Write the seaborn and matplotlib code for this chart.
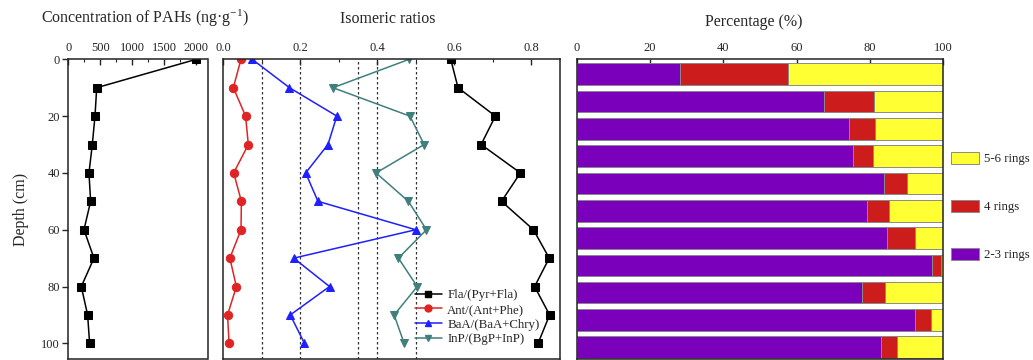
import numpy as np
import pandas as pd
import matplotlib
matplotlib.use("Agg")
import matplotlib.pyplot as plt
import seaborn as sns
from matplotlib.patches import Patch
from matplotlib.lines import Line2D

# ---------------- data ----------------
depth = [0, 10, 20, 30, 40, 50, 60, 70, 80, 90, 100]
concentration = [2000, 444, 417, 375, 323, 349, 245, 401, 203, 302, 333]

fla_ratio = [0.591, 0.610, 0.707, 0.670, 0.772, 0.723, 0.806, 0.847, 0.809, 0.848, 0.818]
ant_ratio = [0.046, 0.026, 0.058, 0.065, 0.027, 0.047, 0.046, 0.017, 0.034, 0.011, 0.015]
baa_ratio = [0.075, 0.172, 0.295, 0.272, 0.214, 0.246, 0.500, 0.183, 0.276, 0.174, 0.211]
inp_ratio = [0.483, 0.285, 0.485, 0.522, 0.397, 0.481, 0.528, 0.455, 0.504, 0.444, 0.470]
threshold_lines = [0.1, 0.2, 0.35, 0.4, 0.5]

rings_2_3 = [28.1, 67.5, 74.3, 75.4, 83.8, 79.2, 84.6, 97.0, 77.7, 92.2, 83.1]
rings_4 = [29.6, 13.6, 7.0, 5.5, 6.4, 6.0, 7.6, 2.4, 6.4, 4.5, 4.3]
rings_5_6 = [42.3, 18.9, 18.7, 19.1, 9.8, 14.8, 7.8, 0.6, 15.9, 3.3, 12.6]

ratio_labels = ["Fla/(Pyr+Fla)", "Ant/(Ant+Phe)", "BaA/(BaA+Chry)", "InP/(BgP+InP)"]
ring_labels = ["5-6 rings", "4 rings", "2-3 rings"]

# ---------------- style ----------------
sns.set_style("ticks")
plt.rcParams["font.family"] = ["Liberation Serif", "DejaVu Serif"]
plt.rcParams["mathtext.fontset"] = "custom"
plt.rcParams["mathtext.rm"] = "Liberation Serif"
plt.rcParams["mathtext.it"] = "Liberation Serif:italic"
plt.rcParams["axes.edgecolor"] = "#222222"
plt.rcParams["axes.linewidth"] = 1.1

W, H = 1033, 360
fig = plt.figure(figsize=(W / 100, H / 100), dpi=100)

def px_axes(l, r, t, b):
    return fig.add_axes([l / W, 1 - b / H, (r - l) / W, (b - t) / H])

TICK_FS = 9.0
ax1 = px_axes(68.3, 207.5, 59.3, 358.7)
ax2 = px_axes(223.3, 560.0, 59.3, 358.7)
ax3 = px_axes(576.7, 943.3, 59.3, 358.7)

# ---------- panel 1: concentration ----------
df1 = pd.DataFrame({"depth": depth, "conc": concentration})
sns.lineplot(data=df1, x="conc", y="depth", orient="y", ax=ax1, color="black",
             marker="s", markersize=5.5, markeredgecolor="black", linewidth=1.1)
ax1.set_xlim(0, 2175)
ax1.set_ylim(105.4, 0)
ax1.xaxis.tick_top()
ax1.set_xticks([0, 500, 1000, 1500, 2000])
ax1.set_xticks([250, 750, 1250, 1750], minor=True)
ax1.set_yticks([0, 20, 40, 60, 80, 100])
ax1.tick_params(axis="x", which="major", direction="in", length=4, width=1, pad=4,
                labelsize=TICK_FS, top=True, bottom=False)
ax1.tick_params(axis="x", which="minor", direction="in", length=2.5, width=0.8,
                top=True, bottom=False)
ax1.tick_params(axis="y", direction="out", length=4, width=1, pad=2, labelsize=TICK_FS)
ax1.set_xlabel("")
ax1.set_ylabel("Depth (cm)", fontsize=11.5, labelpad=9)

# ---------- panel 2: isomeric ratios ----------
ratio_specs = [
    (fla_ratio, "black", "s", ratio_labels[0]),
    (ant_ratio, "#E02424", "o", ratio_labels[1]),
    (baa_ratio, "#1F1FFF", "^", ratio_labels[2]),
    (inp_ratio, "#3F7F7C", "v", ratio_labels[3]),
]
for xv in threshold_lines:
    ax2.axvline(xv, color="#333333", linestyle=(0, (2, 2)), linewidth=0.9, zorder=0)
handles = []
for vals, col, mk, lab in ratio_specs:
    d = pd.DataFrame({"depth": depth, "val": vals})
    sns.lineplot(data=d, x="val", y="depth", orient="y", ax=ax2, color=col,
                 marker=mk, markersize=6, markeredgecolor=col, linewidth=1.1)
    handles.append(Line2D([0], [0], color=col, marker=mk, markersize=5,
                          markeredgecolor=col, linewidth=1.1, label=lab))
ax2.set_xlim(0, 0.875)
ax2.set_ylim(105.4, 0)
ax2.xaxis.tick_top()
ax2.set_xticks([0.0, 0.2, 0.4, 0.6, 0.8])
ax2.set_xticklabels(["0.0", "0.2", "0.4", "0.6", "0.8"])
ax2.set_xticks([0.1, 0.3, 0.5, 0.7], minor=True)
ax2.tick_params(axis="x", which="major", direction="in", length=4, width=1, pad=4,
                labelsize=TICK_FS, top=True, bottom=False)
ax2.tick_params(axis="x", which="minor", direction="in", length=2.5, width=0.8,
                top=True, bottom=False)
ax2.set_yticks([])
ax2.set_xlabel("")
ax2.set_ylabel("")
ax2.legend(handles=handles, loc="upper left", bbox_to_anchor=(0.569, 0.232),
           frameon=False, fontsize=9.3, handlelength=2.1, handletextpad=0.4,
           labelspacing=0.2, borderpad=0, borderaxespad=0)

# ---------- panel 3: ring percentages ----------
cats = [str(d) for d in depth]
total_all = [a + b + c for a, b, c in zip(rings_2_3, rings_4, rings_5_6)]
total_23_4 = [a + b for a, b in zip(rings_2_3, rings_4)]
ring_colors = {"5-6 rings": "#FFFF33", "4 rings": "#CC1C1C", "2-3 rings": "#7A00BC"}
for vals, lab in [(total_all, "5-6 rings"), (total_23_4, "4 rings"), (rings_2_3, "2-3 rings")]:
    d = pd.DataFrame({"cat": cats, "val": vals})
    sns.barplot(data=d, x="val", y="cat", orient="h", ax=ax3, color=ring_colors[lab],
                saturation=1, width=0.79, edgecolor="#8a8a8a", linewidth=0.7)
ax3.set_xlim(0, 100)
ax3.set_ylim(10.42, -0.546)
ax3.xaxis.tick_top()
ax3.set_xticks([0, 20, 40, 60, 80, 100])
ax3.tick_params(axis="x", which="major", direction="in", length=4, width=1, pad=4,
                labelsize=TICK_FS, top=True, bottom=False)
ax3.set_yticks([])
ax3.set_xlabel("")
ax3.set_ylabel("")
for sp in ax3.spines.values():
    sp.set_zorder(5)

ring_handles = [Patch(facecolor=ring_colors[l], edgecolor="#8a8a8a", linewidth=0.7, label=l)
                for l in ring_labels]
fig.legend(handles=ring_handles, loc="upper left", bbox_to_anchor=(950.7 / W, 1 - 152.0 / H),
           frameon=False, fontsize=9.3, handlelength=2.2, handleheight=1.0,
           handletextpad=0.35, labelspacing=2.7, borderpad=0, borderaxespad=0)

# ---------- titles ----------
fig.text(145 / W, 1 - 18 / H, r"Concentration of PAHs (ng·g$^{\mathrm{-1}}$)",
         ha="center", va="center", fontsize=11.5)
fig.text(387.5 / W, 1 - 19 / H, "Isomeric ratios", ha="center", va="center", fontsize=11.5)
fig.text(754 / W, 1 - 22 / H, "Percentage (%)", ha="center", va="center", fontsize=11.5)

fig.savefig("out.png", dpi=100)
